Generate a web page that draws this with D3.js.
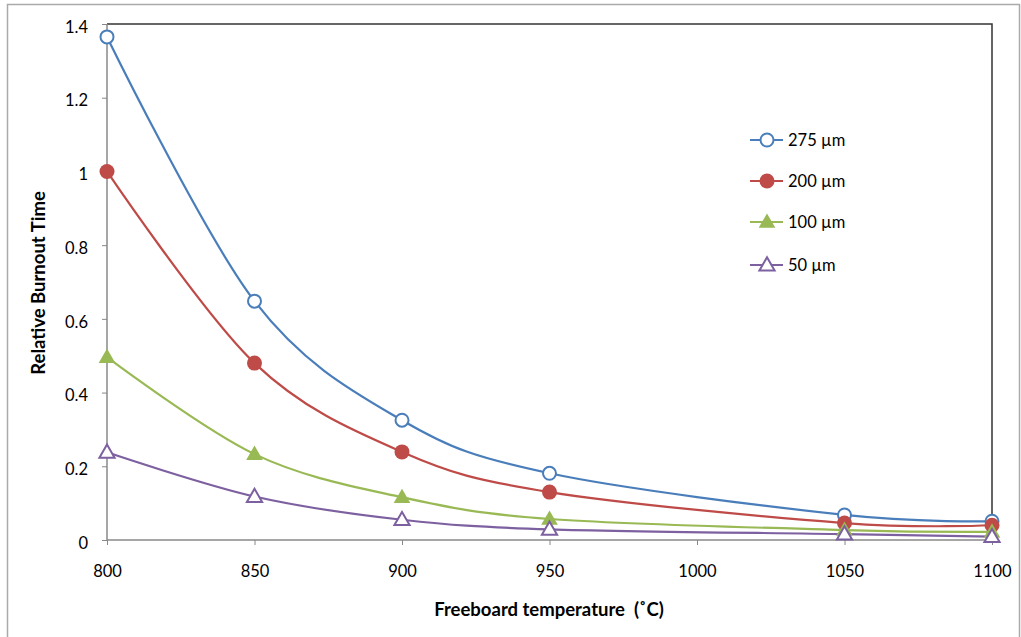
<!DOCTYPE html>
<html>
<head>
<meta charset="utf-8">
<script src="https://cdn.jsdelivr.net/npm/d3@7"></script>
<style>
  html, body { margin: 0; padding: 0; background: #fff; }
  svg { display: block; font-family: Lato, "Open Sans", "Liberation Sans", sans-serif; }
</style>
</head>
<body>
<svg id="chart" width="1021" height="637"></svg>
<script>
// Freeboard temperature (°C)
const temperatures = [800, 850, 900, 950, 1050, 1100];
// Relative burnout time per particle size
const burnout275 = [1.365, 0.648, 0.325, 0.181, 0.068, 0.051];
const burnout200 = [1.0, 0.48, 0.239, 0.13, 0.046, 0.04];
const burnout100 = [0.496, 0.233, 0.116, 0.057, 0.027, 0.022];
const burnout50  = [0.238, 0.118, 0.055, 0.029, 0.016, 0.009];
const seriesNames = ["275 µm", "200 µm", "100 µm", "50 µm"];
const xTicks = [800, 850, 900, 950, 1000, 1050, 1100];
const yTicks = [0, 0.2, 0.4, 0.6, 0.8, 1, 1.2, 1.4];

const series = [
  { name: seriesNames[0], values: burnout275, color: "#4A7EBB", marker: "circle", filled: false },
  { name: seriesNames[1], values: burnout200, color: "#BE4B48", marker: "circle", filled: true },
  { name: seriesNames[2], values: burnout100, color: "#98B954", marker: "triangle", filled: true },
  { name: seriesNames[3], values: burnout50,  color: "#7D60A0", marker: "triangle", filled: false }
];

const svg = d3.select("#chart");
const plotLeft = 107, plotRight = 992, plotTop = 24, plotBottom = 540;
const fontFamily = "Lato, 'Open Sans', 'Liberation Sans', sans-serif";

const x = d3.scaleLinear().domain([800, 1100]).range([plotLeft, plotRight]);
const y = d3.scaleLinear().domain([0, 1.4]).range([plotBottom, plotTop]);

// outer chart border
svg.append("rect")
  .attr("x", 7.5).attr("y", 4.5).attr("width", 1012).attr("height", 640)
  .attr("fill", "none").attr("stroke", "#aaaaaa").attr("stroke-width", 1.5);

// plot frame (top and right edges)
svg.append("path")
  .attr("d", `M${plotLeft},${plotTop}H${plotRight}V${plotBottom}`)
  .attr("fill", "none").attr("stroke", "#333").attr("stroke-width", 1.5);

// axes
const yAxis = svg.append("g")
  .attr("transform", `translate(${plotLeft},0)`)
  .call(d3.axisLeft(y).tickValues(yTicks).tickSize(5).tickPadding(14)
    .tickFormat(d => String(+d.toFixed(1))));
const xAxis = svg.append("g")
  .attr("transform", `translate(0,${plotBottom})`)
  .call(d3.axisBottom(x).tickValues(xTicks).tickSize(5).tickPadding(20).tickFormat(d3.format("d")));

[yAxis, xAxis].forEach(g => {
  g.select(".domain").attr("stroke", "#888").attr("stroke-width", 1.5);
  g.selectAll(".tick line").attr("stroke", "#888").attr("stroke-width", 1);
  g.selectAll(".tick text").attr("fill", "#000").style("font-size", "16.5px")
    .style("font-family", fontFamily);
});
yAxis.selectAll(".tick text").attr("dy", "0.5em");
yAxis.select(".domain").attr("d", `M0,${plotBottom}V${plotTop}`);
xAxis.select(".domain").attr("d", `M${plotLeft},0H${plotRight}`);

// axis titles
svg.append("text")
  .attr("transform", `translate(45,${(plotTop + plotBottom) / 2 + 1}) rotate(-90)`)
  .attr("text-anchor", "middle")
  .style("font-size", "18.5px").style("font-weight", "bold")
  .text("Relative Burnout Time");
svg.append("text")
  .attr("x", 549).attr("y", 616)
  .attr("text-anchor", "middle")
  .style("font-size", "18.5px").style("font-weight", "bold")
  .style("white-space", "pre")
  .text("Freeboard temperature  (˚C)");

const line = d3.line()
  .x((d, i) => x(temperatures[i]))
  .y(d => y(d))
  .curve(d3.curveCardinal.tension(0));

function drawMarker(g, s, cx, cy) {
  if (s.marker === "circle") {
    g.append("circle")
      .attr("cx", cx).attr("cy", cy).attr("r", s.filled ? 7.5 : 6.5)
      .attr("fill", s.filled ? s.color : "#fff")
      .attr("stroke", s.color).attr("stroke-width", s.filled ? 0 : 2);
  } else {
    const sym = d3.symbol().type(d3.symbolTriangle).size(s.filled ? 120 : 100);
    g.append("path")
      .attr("d", sym())
      .attr("transform", `translate(${cx},${cy + 1})`)
      .attr("fill", s.filled ? s.color : "#fff")
      .attr("stroke", s.color).attr("stroke-width", s.filled ? 0 : 2);
  }
}

// series lines
series.forEach(s => {
  svg.append("path")
    .attr("d", line(s.values))
    .attr("fill", "none").attr("stroke", s.color).attr("stroke-width", 2.2);
});
// series markers
series.forEach(s => {
  const g = svg.append("g");
  s.values.forEach((v, i) => drawMarker(g, s, x(temperatures[i]), y(v)));
});

// legend
const legendY = [140, 181, 222, 265];
series.forEach((s, i) => {
  const g = svg.append("g").attr("transform", `translate(750,${legendY[i]})`);
  g.append("line").attr("x1", 0).attr("x2", 33).attr("y1", 0).attr("y2", 0)
    .attr("stroke", s.color).attr("stroke-width", 2.2);
  drawMarker(g, s, 17, 0);
  g.append("text").attr("x", 38).attr("y", 6)
    .style("font-size", "16.5px").text(s.name);
});
</script>
</body>
</html>
